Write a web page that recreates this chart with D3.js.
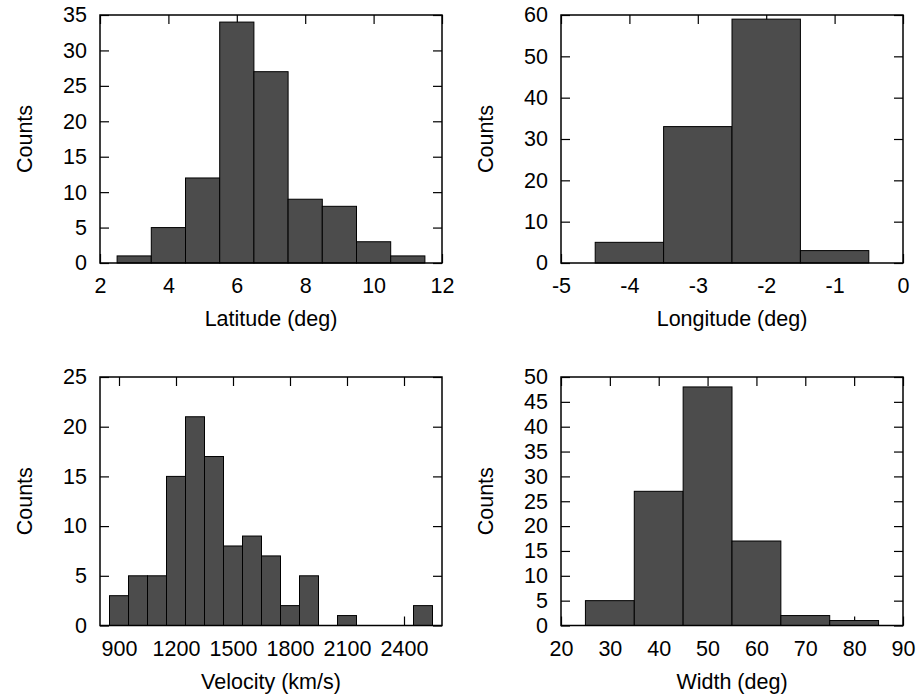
<!DOCTYPE html>
<html>
<head>
<meta charset="utf-8">
<script src="https://cdn.jsdelivr.net/npm/d3@7"></script>
<style>
  body { margin: 0; background: #fff; }
  text { font-family: "Liberation Sans", Arial, Helvetica, sans-serif; }
</style>
</head>
<body>
<div id="chart"></div>
<script>
// histogram data
var latCenters = [3, 4, 5, 6, 7, 8, 9, 10, 11];
var latCounts = [1, 5, 12, 34, 27, 9, 8, 3, 1];
var latXTicks = [2, 4, 6, 8, 10, 12];
var latYTicks = [0, 5, 10, 15, 20, 25, 30, 35];

var lonCenters = [-4, -3, -2, -1];
var lonCounts = [5, 33, 59, 3];
var lonXTicks = [-5, -4, -3, -2, -1, 0];
var lonYTicks = [0, 10, 20, 30, 40, 50, 60];

var velCenters = [900, 1000, 1100, 1200, 1300, 1400, 1500, 1600, 1700, 1800, 1900, 2000, 2100, 2200, 2300, 2400, 2500];
var velCounts = [3, 5, 5, 15, 21, 17, 8, 9, 7, 2, 5, 0, 1, 0, 0, 0, 2];
var velXTicks = [900, 1200, 1500, 1800, 2100, 2400];
var velYTicks = [0, 5, 10, 15, 20, 25];

var widCenters = [30, 40, 50, 60, 70, 80];
var widCounts = [5, 27, 48, 17, 2, 1];
var widXTicks = [20, 30, 40, 50, 60, 70, 80, 90];
var widYTicks = [0, 5, 10, 15, 20, 25, 30, 35, 40, 45, 50];

var W = 921, H = 698;
var svg = d3.select("#chart").append("svg")
    .attr("width", W)
    .attr("height", H);

var fontSize = 21.5;
var tickLen = 9;
var plain = function(d) { return String(d); };  // keep "-" hyphen, no commas

function panel(opt) {
    var g = svg.append("g")
        .attr("transform", "translate(" + opt.left + "," + opt.top + ")");
    var w = opt.w, h = opt.h;

    var x = d3.scaleLinear().domain(opt.xDomain).range([0, w]);
    var y = d3.scaleLinear().domain(opt.yDomain).range([h, 0]);

    // ticks (inward, mirrored on all sides)
    var xb = d3.axisBottom(x).tickValues(opt.xTicks).tickSizeInner(-tickLen).tickSizeOuter(0).tickPadding(15).tickFormat(plain);
    var xt = d3.axisTop(x).tickValues(opt.xTicks).tickSizeInner(-tickLen).tickSizeOuter(0).tickFormat("");
    var yl = d3.axisLeft(y).tickValues(opt.yTicks).tickSizeInner(-tickLen).tickSizeOuter(0).tickPadding(13).tickFormat(plain);
    var yr = d3.axisRight(y).tickValues(opt.yTicks).tickSizeInner(-tickLen).tickSizeOuter(0).tickFormat("");

    g.append("g").attr("class", "xb").attr("transform", "translate(0," + h + ")").call(xb);
    g.append("g").attr("class", "xt").call(xt);
    g.append("g").attr("class", "yl").call(yl);
    g.append("g").attr("class", "yr").attr("transform", "translate(" + w + ",0)").call(yr);

    g.selectAll(".domain").remove();
    g.selectAll(".tick line").attr("stroke", "#000").attr("stroke-width", 1.2);
    g.selectAll(".tick text")
        .attr("fill", "#000")
        .style("font-size", fontSize + "px")
        .style("font-family", "'Liberation Sans', Arial, sans-serif");

    // bars
    var bins = opt.centers.map(function(c, i) { return {c: c, n: opt.counts[i]}; })
        .filter(function(d) { return d.n > 0; });
    var half = opt.binWidth / 2;
    g.selectAll(".bar")
        .data(bins)
        .enter().append("rect")
        .attr("class", "bar")
        .attr("x", function(d) { return x(d.c - half); })
        .attr("width", function(d) { return x(d.c + half) - x(d.c - half); })
        .attr("y", function(d) { return y(d.n); })
        .attr("height", function(d) { return y(0) - y(d.n); })
        .attr("fill", "#4c4c4c")
        .attr("stroke", "#000")
        .attr("stroke-width", 1);

    // frame
    g.append("rect")
        .attr("x", 0).attr("y", 0)
        .attr("width", w).attr("height", h)
        .attr("fill", "none")
        .attr("stroke", "#000")
        .attr("stroke-width", 1.5);

    // axis titles
    g.append("text")
        .attr("x", w / 2)
        .attr("y", h + 63)
        .attr("text-anchor", "middle")
        .style("font-size", fontSize + "px")
        .text(opt.xLabel);

    g.append("text")
        .attr("transform", "translate(-68," + (h / 2) + ") rotate(-90)")
        .attr("text-anchor", "middle")
        .style("font-size", fontSize + "px")
        .text("Counts");
}

panel({left: 100, top: 15, w: 342, h: 248,
    xDomain: [2, 12], yDomain: [0, 35], xTicks: latXTicks, yTicks: latYTicks,
    centers: latCenters, counts: latCounts, binWidth: 1, xLabel: "Latitude (deg)"});

panel({left: 561, top: 15, w: 342, h: 248,
    xDomain: [-5, 0], yDomain: [0, 60], xTicks: lonXTicks, yTicks: lonYTicks,
    centers: lonCenters, counts: lonCounts, binWidth: 1, xLabel: "Longitude (deg)"});

panel({left: 100, top: 377, w: 342, h: 248.5,
    xDomain: [800, 2600], yDomain: [0, 25], xTicks: velXTicks, yTicks: velYTicks,
    centers: velCenters, counts: velCounts, binWidth: 100, xLabel: "Velocity (km/s)"});

panel({left: 561, top: 377, w: 342, h: 248.5,
    xDomain: [20, 90], yDomain: [0, 50], xTicks: widXTicks, yTicks: widYTicks,
    centers: widCenters, counts: widCounts, binWidth: 10, xLabel: "Width (deg)"});
</script>
</body>
</html>
